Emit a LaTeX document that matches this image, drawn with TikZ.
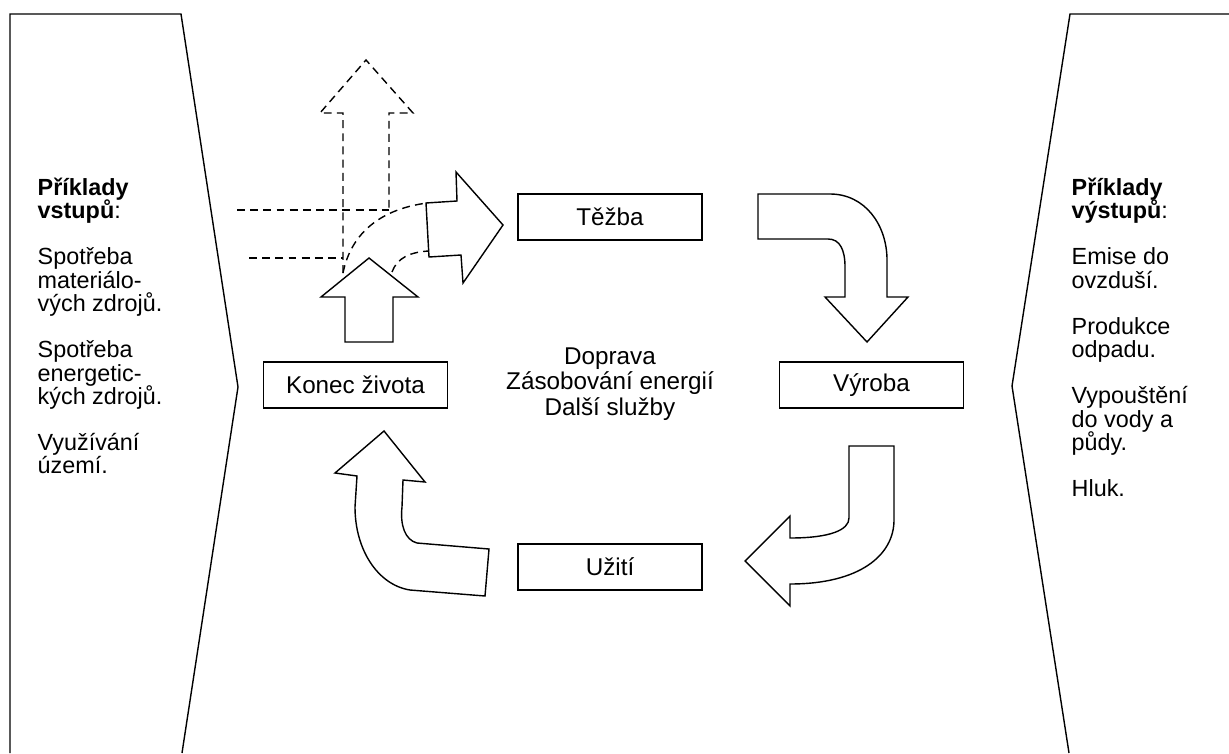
\documentclass[tikz,border=0pt]{standalone}
\usepackage{fontspec}
\setmainfont{Liberation Sans}
\usetikzlibrary{arrows}

\begin{document}
\begin{tikzpicture}[x=0.02cm, y=-0.02cm, line width=0.8pt, line join=miter,
	stage/.style={draw, minimum width=3.68cm, minimum height=0.92cm, inner sep=0pt, font=\fontsize{13.8}{15}\selectfont},
	panel/.style={anchor=north west, align=left, inner sep=0pt, font={\fontsize{13.3}{13.3}\selectfont\lineskiplimit=-20pt\relax}},
	fat/.style={draw, fill=white},
	outlet/.style={dash pattern=on 4.5pt off 3pt}]
	\useasboundingbox (0,0) rectangle (1229,753);

	% Panels {vstupy, vystupy}
	\draw (10,753) -- (10,14) -- (181,14) -- (238,387) -- (182,753);
	\draw (1229,14) -- (1070,14) -- (1012,386) -- (1069,753);

	\node [panel] (vstupy) at (37,177) {\textbf{Příklady}\\\textbf{vstupů}:\\[13pt]
		Spotřeba\\materiálo-\\vých zdrojů.\\[13pt]
		Spotřeba\\energetic-\\kých zdrojů.\\[13pt]
		Využívání\\území.};
	\node [panel] (vystupy) at (1071,177) {\textbf{Příklady}\\\textbf{výstupů}:\\[13pt]
		Emise do\\ovzduší.\\[13pt]
		Produkce\\odpadu.\\[13pt]
		Vypouštění\\do vody a\\půdy.\\[13pt]
		Hluk.};

	% Nodes {tezba, vyroba, uziti, konec}
	\node [stage] (tezba)  at (610,217)   {Těžba};
	\node [stage] (vyroba) at (871.5,385) {Výroba};
	\node [stage] (uziti)  at (610,567)   {Užití};
	\node [stage] (konec)  at (355.5,385) {Konec života};
	\node [align=center, inner sep=0pt, font=\fontsize{13.8}{14.7}\selectfont] (sluzby) at (610,384)
		{Doprava\\Zásobování energií\\Další služby};

	% Dashed outlets
	\draw [outlet] (343,273) -- (343,113) -- (320,113) -- (366,60) -- (413,113) -- (389,113) -- (389,210);
	\draw [outlet] (237,210) -- (389,210);
	\draw [outlet] (249,258) -- (343,258);
	\draw [outlet] (343,273) .. controls (350,238) and (375,210) .. (427,203);
	\draw [outlet] (392,272) .. controls (397,258) and (410,252) .. (429,251);

	% Block arrows
	\draw [fat] (345,342) -- (345,297) -- (321,297) -- (369,258) -- (418,297) -- (393,297) -- (393,342) -- cycle;
	\draw [fat] (426,203) -- (457,201) -- (456,172) -- (503,225) -- (463,283) -- (461,255) -- (429,257) -- cycle;
	\draw [fat] (758,194) -- (830,194) .. controls (865,194) and (887,225) .. (887,260)
		-- (887,297) -- (908,297) -- (867,342) -- (825,297) -- (845,297) -- (845,267)
		.. controls (845,250) and (840,239) .. (828,239) -- (758,239) -- cycle;
	\draw [fat] (849,446) -- (894,446) -- (894,520) .. controls (894,555) and (860,584) .. (790,584)
		-- (790,606) -- (745,561) -- (790,516) -- (790,538)
		.. controls (830,538) and (849,530) .. (849,518) -- cycle;
	\draw [fat] (384,431) -- (425,482) -- (403,480) -- (402,507) .. controls (400,525) and (405,540) .. (417,543)
		-- (489,549) -- (485,596) -- (410,590) .. controls (378,585) and (355,550) .. (355,507)
		-- (357,476) -- (335,473) -- cycle;
\end{tikzpicture}
\end{document}
